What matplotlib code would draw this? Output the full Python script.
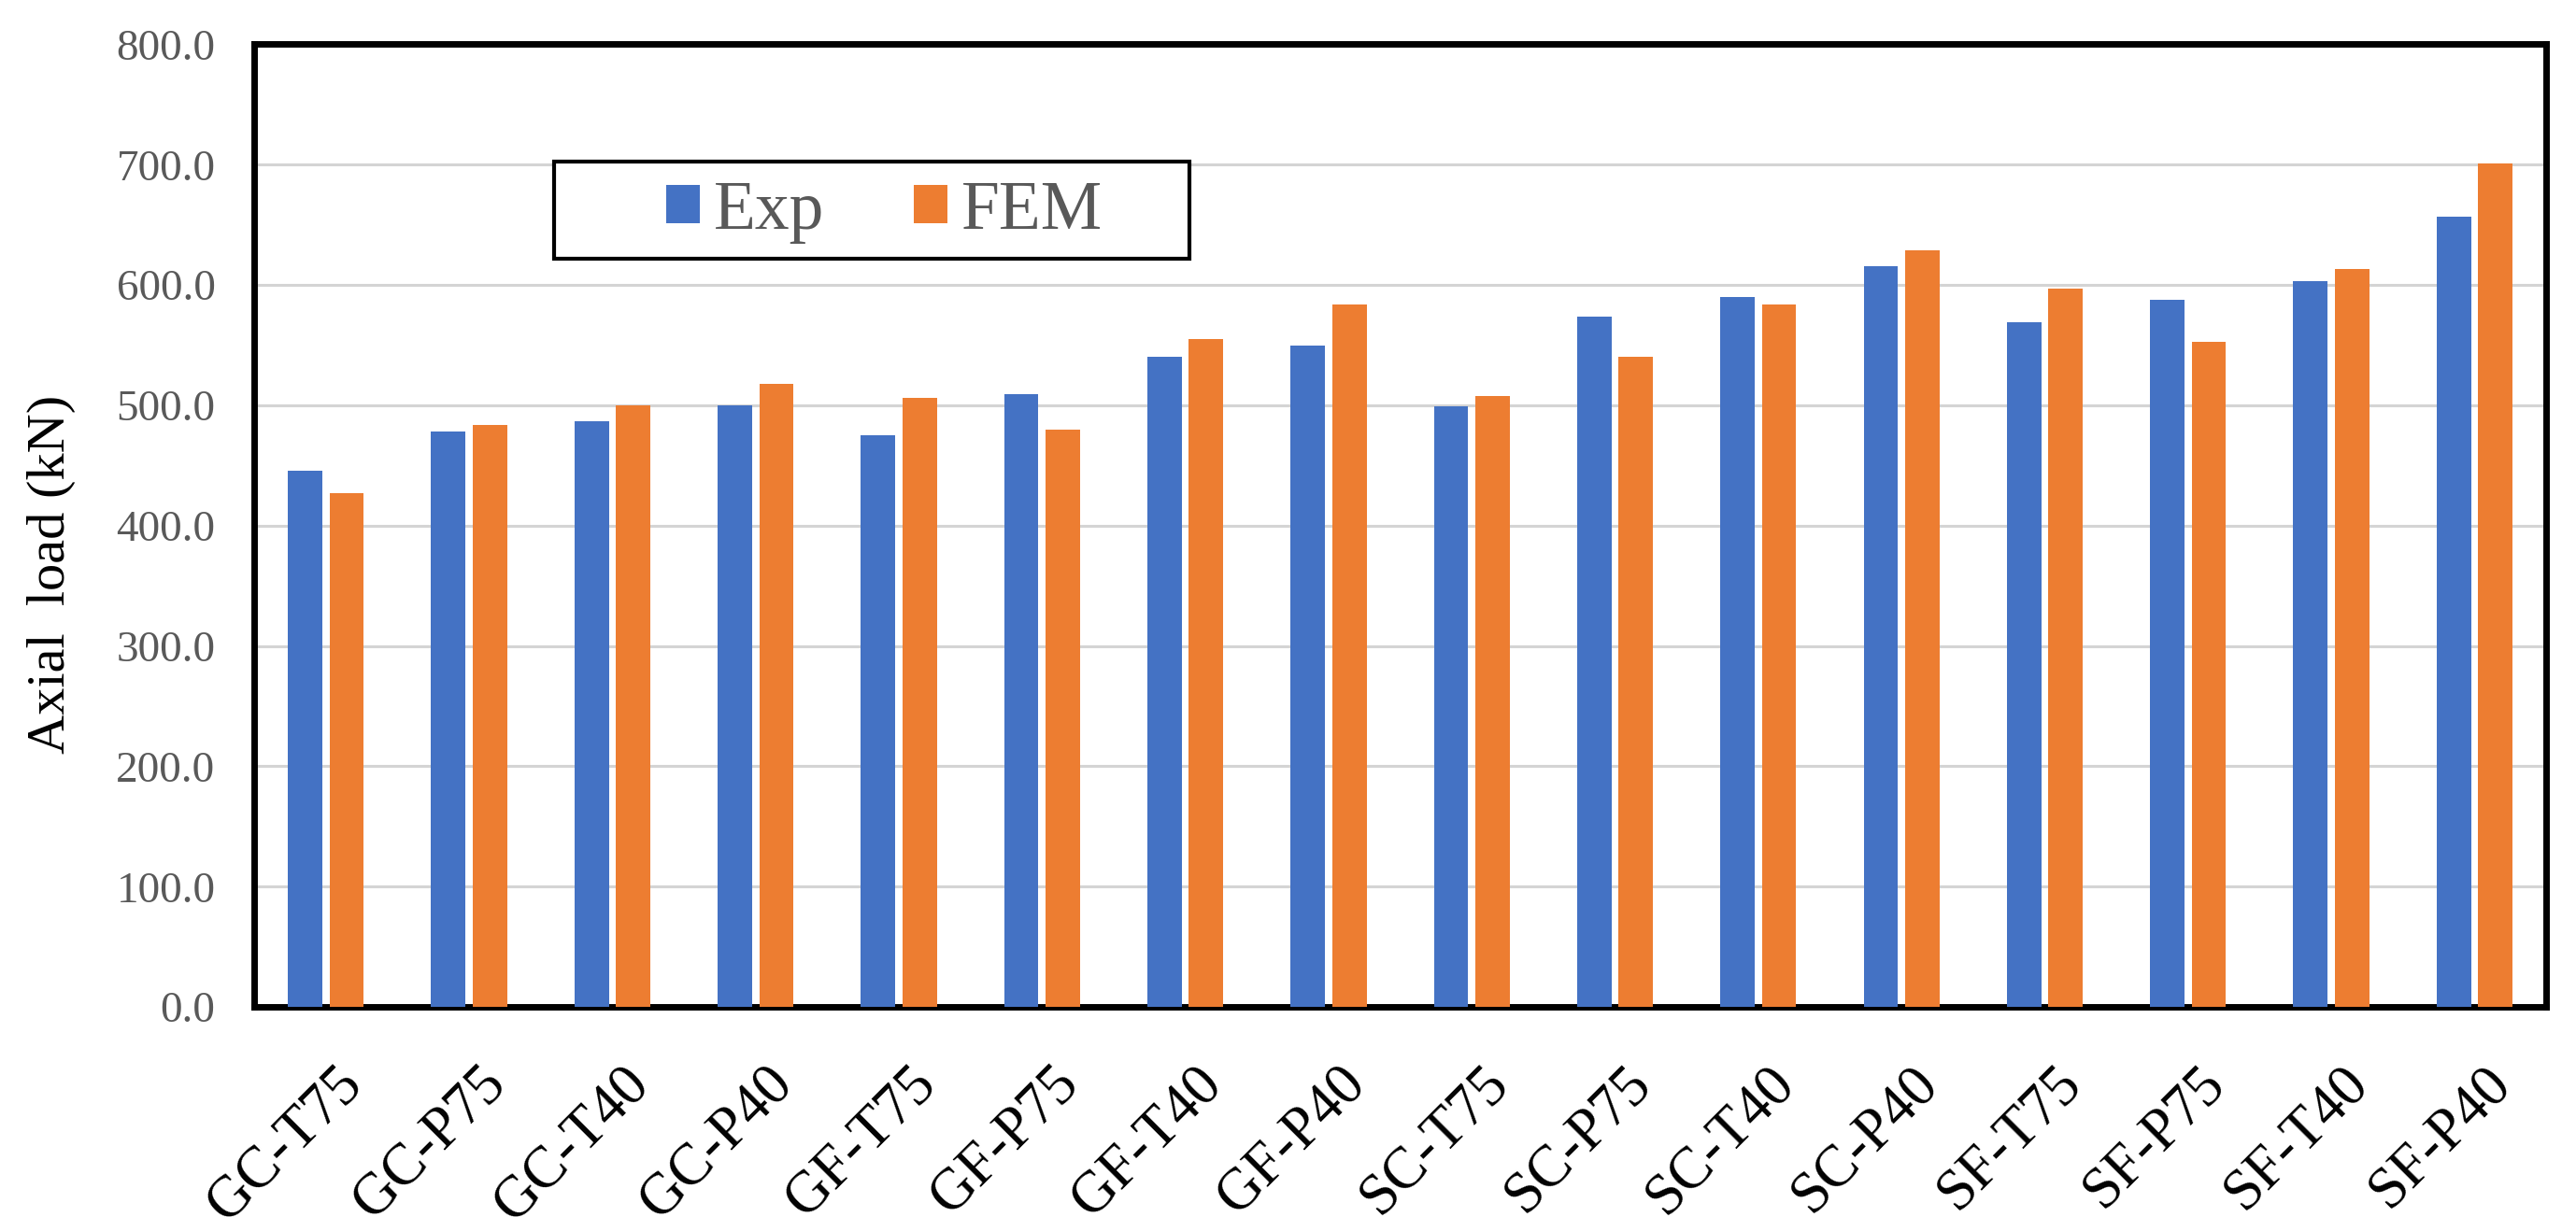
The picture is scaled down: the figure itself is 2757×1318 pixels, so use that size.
import matplotlib.pyplot as plt
import matplotlib.transforms as mtransforms
import numpy as np
from matplotlib.patches import Patch, Rectangle

plt.rcParams.update({'font.family': ['Liberation Serif', 'DejaVu Serif']})

# data
specimens = ['GC-T75', 'GC-P75', 'GC-T40', 'GC-P40', 'GF-T75', 'GF-P75', 'GF-T40', 'GF-P40',
             'SC-T75', 'SC-P75', 'SC-T40', 'SC-P40', 'SF-T75', 'SF-P75', 'SF-T40', 'SF-P40']
exp_load = [446, 478, 487, 500, 475, 509, 540, 550, 499, 574, 590, 616, 569, 588, 603, 657]
fem_load = [427, 484, 500, 518, 506, 480, 555, 584, 508, 540, 584, 629, 597, 553, 613, 701]
yticks = [0, 100, 200, 300, 400, 500, 600, 700, 800]

blue = '#4472C4'
orange = '#ED7D31'

fig = plt.figure(figsize=(27.57, 13.18), dpi=100)
ax = fig.add_axes([0.0987, 0.182, 0.8897, 0.782])

x = np.arange(len(specimens))
w = 0.24
off = 0.145
ax.bar(x - off, exp_load, width=w, color=blue, zorder=3)
ax.bar(x + off, fem_load, width=w, color=orange, zorder=3)

ax.set_xlim(-0.5, len(specimens) - 0.5)
ax.set_ylim(0, 800)
ax.set_yticks(yticks)
ax.set_yticklabels([f'{v:.1f}' for v in yticks], fontsize=34, color='#595959')
ax.set_xticks(x)
ax.set_xticklabels(specimens, fontsize=45, rotation=45, ha='right', va='top',
                   rotation_mode='anchor')
ax.tick_params(axis='y', length=0, pad=30)
ax.tick_params(axis='x', length=0, pad=38)
# nudge rotated labels slightly right, as in the original
shift = mtransforms.ScaledTranslation(10 / 100, 0, fig.dpi_scale_trans)
for lbl in ax.get_xticklabels():
    lbl.set_transform(lbl.get_transform() + shift)

ax.grid(axis='y', color='#d4d4d4', linewidth=2.2, zorder=0)
ax.set_axisbelow(True)
for s in ax.spines.values():
    s.set_linewidth(5)
    s.set_color('black')

ax.set_ylabel('Axial  load (kN)', fontsize=42)
ax.yaxis.set_label_coords(-0.078, 0.449)

# legend box
ax.add_patch(Rectangle((0.1309, 0.777), 0.2772, 0.1009, transform=ax.transAxes,
                       facecolor='white', edgecolor='black', linewidth=3, zorder=5))
handles = [Patch(facecolor=blue, label='Exp'), Patch(facecolor=orange, label='FEM')]
leg = ax.legend(handles=handles, loc='center', bbox_to_anchor=(0.2748, 0.826), ncol=2,
                frameon=False, fontsize=53, handlelength=0.49, handleheight=0.49,
                handletextpad=0.2, columnspacing=1.3, labelcolor='#595959')
leg.set_zorder(6)

plt.savefig('out.png', dpi=100)
